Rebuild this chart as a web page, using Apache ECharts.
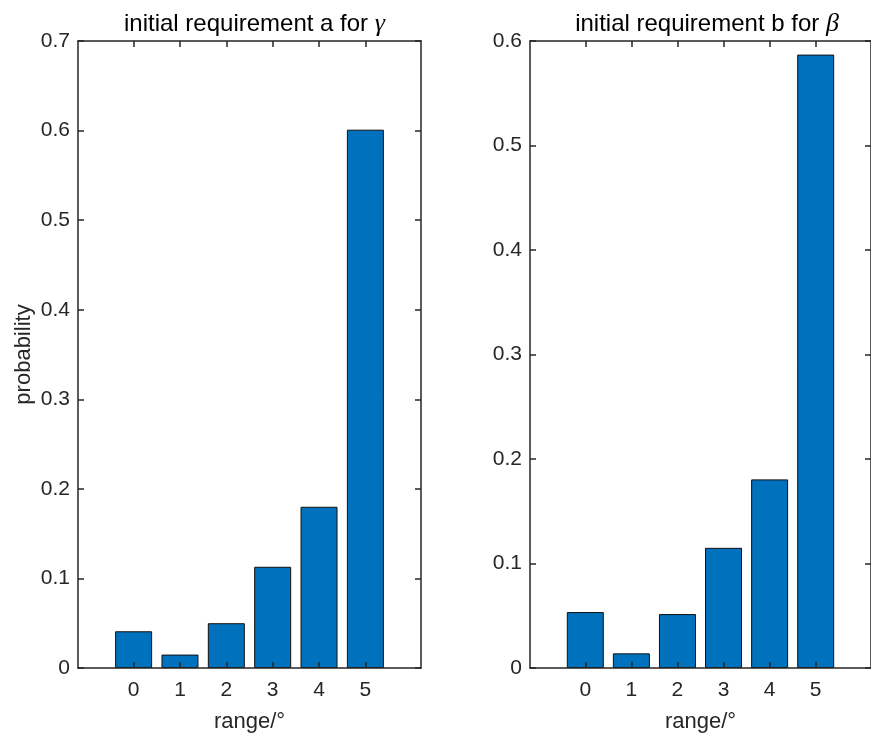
<!DOCTYPE html>
<html>
<head>
<meta charset="utf-8">
<script src="https://cdn.jsdelivr.net/npm/echarts@6/dist/echarts.min.js"></script>
<style>html,body{margin:0;padding:0;background:#fff}#c{width:871px;height:740px}</style>
</head>
<body>
<div id="c"></div>
<script>
var categories = [0, 1, 2, 3, 4, 5];
var valuesA = [0.041, 0.015, 0.050, 0.113, 0.180, 0.601];
var valuesB = [0.0535, 0.014, 0.0516, 0.115, 0.1805, 0.587];
var titleA = 'initial requirement a for ';
var titleB = 'initial requirement b for ';
var greekA = 'γ';
var greekB = 'β';
var xName = 'range/°';
var yName = 'probability';

var FONT = 'Liberation Sans, Arial, sans-serif';
var AX = '#262626';
var chart = echarts.init(document.getElementById('c'), null, {renderer: 'canvas'});

function pts(vals) { return categories.map(function (c, i) { return [c, vals[i]]; }); }

function xAx(gi, pos, showLabel, name) {
  return {
    type: 'value', gridIndex: gi, position: pos, min: -1.2, max: 6.2, z: 5,
    name: name || '', nameLocation: 'middle', nameGap: 43,
    nameTextStyle: {fontFamily: FONT, fontSize: 22, color: AX},
    axisLine: {show: true, onZero: false, lineStyle: {color: AX, width: 1.5}},
    axisTick: {show: true, inside: true, length: 6, customValues: categories, lineStyle: {color: AX, width: 1.5}},
    axisLabel: {show: showLabel, customValues: categories, margin: 12, fontFamily: FONT, fontSize: 21, color: AX},
    splitLine: {show: false}
  };
}
function yAx(gi, pos, max, showLabel, name) {
  return {
    type: 'value', gridIndex: gi, position: pos, min: 0, max: max, interval: 0.1, z: 5,
    name: name || '', nameLocation: 'middle', nameGap: 43,
    nameTextStyle: {fontFamily: FONT, fontSize: 22, color: AX},
    axisLine: {show: true, onZero: false, lineStyle: {color: AX, width: 1.5}},
    axisTick: {show: true, inside: true, length: 6, lineStyle: {color: AX, width: 1.5}},
    axisLabel: {show: showLabel, margin: 8, fontFamily: FONT, fontSize: 21, color: AX,
      formatter: function (v) { return +v.toFixed(2) + ''; }},
    splitLine: {show: false}
  };
}
function titleOf(t, g, cx) {
  return {
    text: '{a|' + t + '}{g|' + g + '}', left: cx, top: 6, textAlign: 'center',
    textStyle: {rich: {
      a: {fontFamily: FONT, fontWeight: 'normal', fontSize: 24, color: '#000'},
      g: {fontFamily: 'Liberation Serif, Times New Roman, serif', fontWeight: 'normal', fontStyle: 'italic', fontSize: 26, color: '#000'}
    }}
  };
}
function bars(xi, yi, vals) {
  return {
    type: 'bar', xAxisIndex: xi, yAxisIndex: yi, data: pts(vals), barWidth: 37,
    itemStyle: {color: '#0072BD', borderColor: '#111', borderWidth: 1},
    animation: false, z: 2
  };
}

chart.setOption({
  animation: false,
  title: [titleOf(titleA, greekA, 249.5), titleOf(titleB, greekB, 702)],
  grid: [
    {left: 78, top: 41, width: 343, height: 627},
    {left: 530, top: 41, width: 345, height: 627}
  ],
  xAxis: [xAx(0, 'bottom', true, xName), xAx(0, 'top', false), xAx(1, 'bottom', true, xName), xAx(1, 'top', false)],
  yAxis: [yAx(0, 'left', 0.7, true, yName), yAx(0, 'right', 0.7, false), yAx(1, 'left', 0.6, true), yAx(1, 'right', 0.6, false)],
  series: [bars(0, 0, valuesA), bars(2, 2, valuesB)]
});
</script>
</body>
</html>
